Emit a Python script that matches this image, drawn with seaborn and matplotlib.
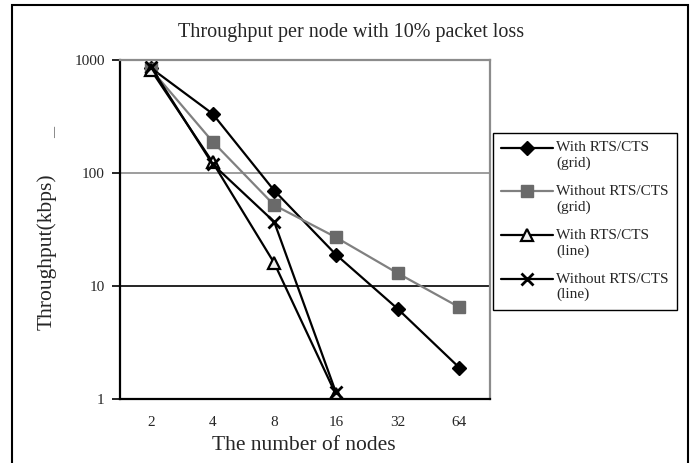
import numpy as np
import pandas as pd
import matplotlib
matplotlib.use('Agg')
import matplotlib.pyplot as plt
import seaborn as sns
from matplotlib.patches import Rectangle
from matplotlib.ticker import FixedLocator, NullLocator

sns.set_theme(style='white')
plt.rcParams['font.family'] = ['Liberation Serif', 'DejaVu Serif']

# values (kbps, log axis)
nodes = ['2', '4', '8', '16', '32', '64']
nodes_line = ['2', '4', '8', '16']
with_rts_grid = [850, 335, 70, 19, 6.3, 1.9]
without_rts_grid = [830, 190, 52, 27, 13, 6.5]
with_rts_line = [820, 125, 16, 1.1]
without_rts_line = [870, 120, 37, 1.15]

labels = ['With RTS/CTS\n(grid)', 'Without RTS/CTS\n(grid)',
          'With RTS/CTS\n(line)', 'Without RTS/CTS\n(line)']

df = pd.concat([
    pd.DataFrame({'nodes': nodes, 'kbps': with_rts_grid, 'series': labels[0]}),
    pd.DataFrame({'nodes': nodes, 'kbps': without_rts_grid, 'series': labels[1]}),
    pd.DataFrame({'nodes': nodes_line, 'kbps': with_rts_line, 'series': labels[2]}),
    pd.DataFrame({'nodes': nodes_line, 'kbps': without_rts_line, 'series': labels[3]}),
], ignore_index=True)

styles = {
    labels[0]: dict(color='black', marker='D', markersize=7.5, markerfacecolor='black',
                    markeredgecolor='black', markeredgewidth=1),
    labels[1]: dict(color='#808080', marker='s', markersize=8.5, markerfacecolor='#6a6a6a',
                    markeredgecolor='#6a6a6a', markeredgewidth=1),
    labels[2]: dict(color='black', marker='^', markersize=9, markerfacecolor='#f0f0f0',
                    markeredgecolor='black', markeredgewidth=1.6),
    labels[3]: dict(color='black', marker='x', markersize=9, markeredgecolor='black',
                    markeredgewidth=2),
}

fig = plt.figure(figsize=(6.94, 4.63), dpi=100)
ax = fig.add_axes([120 / 694, 1 - 399 / 463, 370 / 694, 339 / 463])

for name in labels:
    sub = df[df['series'] == name]
    sns.lineplot(data=sub, x='nodes', y='kbps', ax=ax, sort=False, label=name,
                 linewidth=1.6, **styles[name])

ax.set_yscale('log')
ax.set_ylim(1, 1000)
ax.set_xlim(-0.5, len(nodes) - 0.5)
ax.yaxis.set_major_locator(FixedLocator([1, 10, 100, 1000]))
ax.yaxis.set_minor_locator(NullLocator())
ax.set_yticklabels(['1', '10', '100', '1000'])
ax.xaxis.set_minor_locator(FixedLocator(np.arange(len(nodes) + 1) - 0.5))
ax.tick_params(axis='x', which='major', length=0, pad=12, labelsize=11)
ax.tick_params(axis='x', which='minor', direction='in', length=4, width=1.2, color='black')
ax.tick_params(axis='y', which='major', direction='out', length=6, width=1.2,
               color='black', pad=5, labelsize=11, left=True)
ax.set_xlabel('')
ax.set_ylabel('')

ax.yaxis.grid(True)
grid_colors = ['none', 'black', '#8c8c8c', 'none']
for gl, c in zip(ax.yaxis.get_gridlines(), grid_colors):
    gl.set_color(c)
    gl.set_linewidth(1.2)

for side in ['left', 'bottom']:
    ax.spines[side].set_color('black')
    ax.spines[side].set_linewidth(1.6)
for side in ['top', 'right']:
    ax.spines[side].set_color('#8c8c8c')
    ax.spines[side].set_linewidth(1.6)

ax.get_legend().remove()
handles, labs = ax.get_legend_handles_labels()
leg = fig.legend(handles, labs, loc='upper left',
                 bbox_to_anchor=(493 / 694, 1 - 133 / 463), bbox_transform=fig.transFigure,
                 frameon=True, fancybox=False, framealpha=1, edgecolor='black',
                 fontsize=11, handlelength=3.4, handleheight=1.1, handletextpad=0.2,
                 labelspacing=1.0, borderpad=0.55, borderaxespad=0)
leg.get_frame().set_linewidth(1)
# put each handle next to the first line of its two-line label
for col in leg._legend_handle_box.get_children():
    for row in col.get_children():
        row.align = 'top'

fig.text(351 / 694, 1 - 32 / 463, 'Throughput per node with 10% packet loss',
         ha='center', va='center', fontsize=14.5)
fig.text(304 / 694, 1 - 446 / 463, 'The number of nodes',
         ha='center', va='center', fontsize=15.5)
fig.text(47 / 694, 1 - 252 / 463, 'Throughput(kbps)',
         ha='center', va='center', rotation=90, fontsize=15.5)
fig.text(56 / 694, 1 - 132 / 463, '\u2014', ha='center', va='center', rotation=90, fontsize=8)

fig.add_artist(Rectangle((12 / 694, -0.05), (688 - 12) / 694, 1.05 - 5 / 463,
                         transform=fig.transFigure, fill=False, edgecolor='black',
                         linewidth=1.5))

fig.savefig('out.png', dpi=100)
